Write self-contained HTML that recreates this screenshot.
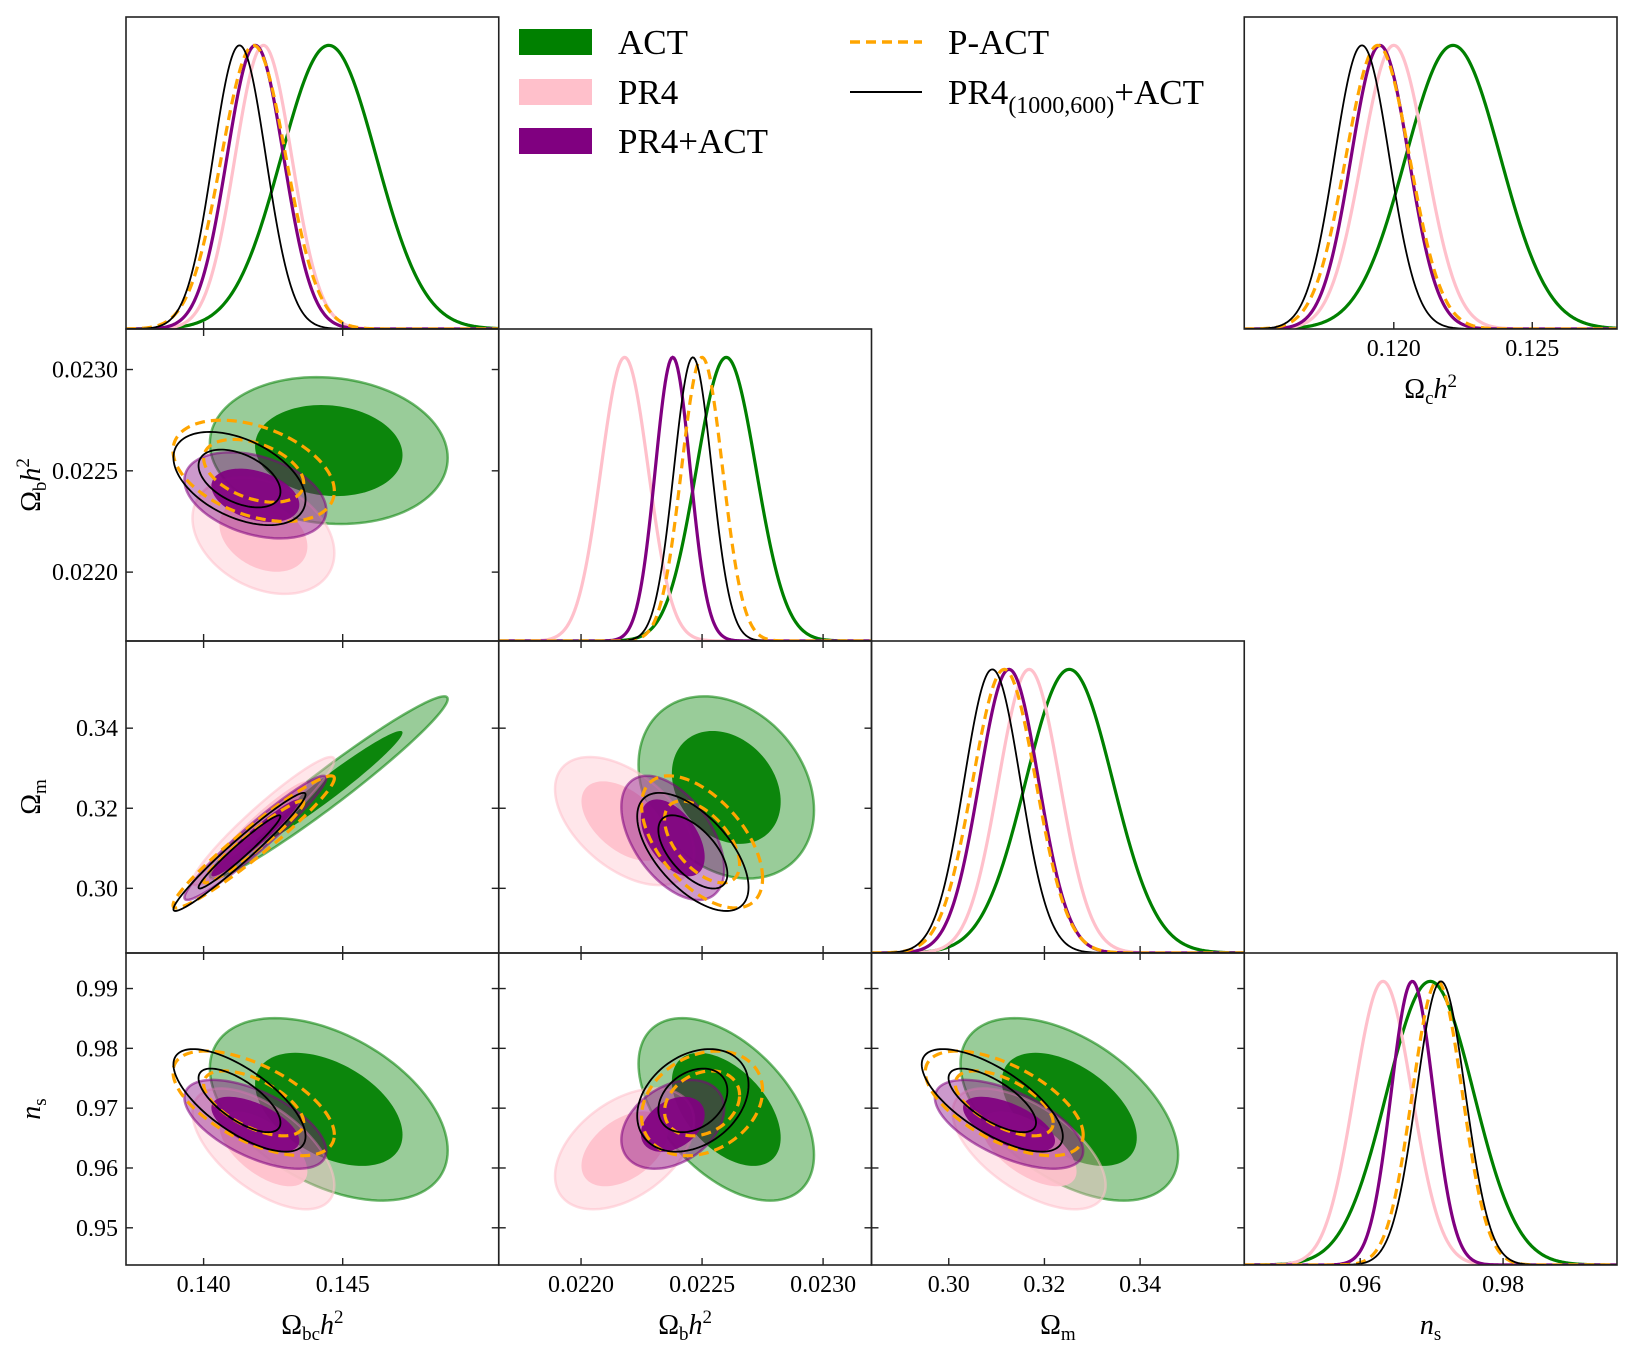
<!DOCTYPE html>
<html><head><meta charset="utf-8"><style>
html,body{margin:0;padding:0;background:#fff}
svg{display:block;font-family:"Liberation Serif","DejaVu Serif",serif}
</style></head><body>
<svg id="fig" width="1630" height="1350" viewBox="0 0 1630 1350" xmlns="http://www.w3.org/2000/svg">
<rect width="1630" height="1350" fill="#fff"/>
<g id="legend">
  <g><rect x="519" y="29" width="73" height="26" fill="#008000"/><text x="618" y="54" font-size="35">ACT</text></g>
  <g><rect x="519" y="79" width="73" height="26" fill="#ffc0cb"/><text x="618" y="104" font-size="35">PR4</text></g>
  <g><rect x="519" y="128" width="73" height="26" fill="#800080"/><text x="618" y="153" font-size="35">PR4+ACT</text></g>
  <g><line x1="850" y1="42" x2="922" y2="42" stroke="#ffa500" stroke-width="3.5" stroke-dasharray="10 6"/><text x="948" y="54" font-size="35">P-ACT</text></g>
  <g><line x1="850" y1="92" x2="922" y2="92" stroke="#000" stroke-width="2"/><text x="948" y="104" font-size="35">PR4<tspan font-size="24" dy="9">(1000,600)</tspan><tspan dy="-9">+ACT</tspan></text></g>
</g>
</svg>
<script>
// dataset order: ACT, PR4, PR4+ACT, P-ACT, PR4(1000,600)+ACT
const datasets = ['ACT','PR4','PR4+ACT','P-ACT','PR4_1000_600+ACT'];
const meanOmbch2 = [0.1445, 0.14215, 0.14186, 0.1418, 0.14129];
const sigOmbch2  = [0.00171, 0.00102, 0.00102, 0.00116, 0.00095];
const meanOmbh2  = [0.0226, 0.02218, 0.022379, 0.0225, 0.022462];
const sigOmbh2   = [0.000145, 0.000115, 0.000085, 0.0001, 0.000092];
const meanOmm    = [0.3252, 0.3168, 0.3126, 0.3116, 0.3091];
const sigOmm     = [0.0091, 0.0064, 0.0062, 0.0066, 0.0059];
const meanNs     = [0.9698, 0.9632, 0.9673, 0.9708, 0.9713];
const sigNs      = [0.0061, 0.00404, 0.00297, 0.0035, 0.00343];
const meanOmch2  = [0.12214, 0.1200, 0.1195, 0.11942, 0.11885];
const sigOmch2   = [0.00171, 0.00115, 0.00104, 0.00115, 0.00099];
const corrBcB  = [-0.1, -0.3, -0.35, -0.4, -0.45];
const corrBcM  = [0.97, 0.95, 0.96, 0.96, 0.97];
const corrBM   = [-0.25, -0.5, -0.5, -0.55, -0.6];
const corrBcNs = [-0.45, -0.6, -0.6, -0.6, -0.7];
const corrBNs  = [-0.5, 0.45, 0.35, 0.25, 0.3];
const corrMNs  = [-0.5, -0.6, -0.6, -0.6, -0.7];
const ticksBc = [0.140, 0.145];
const ticksB  = [0.0220, 0.0225, 0.0230];
const ticksM  = [0.30, 0.32, 0.34];
const ticksNsX = [0.96, 0.98];
const ticksNsY = [0.95, 0.96, 0.97, 0.98, 0.99];
const ticksC  = [0.120, 0.125];

const NS='http://www.w3.org/2000/svg';
const svg=document.getElementById('fig');
const legend=document.getElementById('legend');
function mk(tag,attrs,parent){const e=document.createElementNS(NS,tag);for(const k in attrs)e.setAttribute(k,attrs[k]);(parent||svg).insertBefore(e,parent?null:legend);return e;}

const L0=126, PW=372.75, T0=17, PH=312;
const means=[meanOmbch2,meanOmbh2,meanOmm,meanNs];
const sigs=[sigOmbch2,sigOmbh2,sigOmm,sigNs];
const lo=[0.13721,0.02166,0.28385,0.94378], hi=[0.15061,0.02320,0.36177,0.99594];
const xt=[ticksBc,ticksB,ticksM,ticksNsX], yt=[null,ticksB,ticksM,ticksNsY];
const xfmt=[3,4,2,2], yfmt=[0,4,2,2];
const corr={'0-1':corrBcB,'0-2':corrBcM,'1-2':corrBM,'0-3':corrBcNs,'1-3':corrBNs,'2-3':corrMNs};
const lineCol=['#008000','#ffc0cb','#800080','#ffa500','#000000'];
const names=['act','pr4','pr4-act','p-act','pr4-1000-600-act'];
const margScale=[1,0.85,1,1];

function xs(p,v,x0){return x0+(v-lo[p])/(hi[p]-lo[p])*PW;}
function ys(p,v,y0){return y0+PH-(v-lo[p])/(hi[p]-lo[p])*PH;}
function gaussPath(m,s,a,b,X,Y){let d='';for(let k=0;k<=300;k++){const v=a+(b-a)*k/300;const g=Math.exp(-0.5*((v-m)/s)**2)/1.1;d+=(k?'L':'M')+X(v).toFixed(2)+' '+Y(g).toFixed(2);}return d;}
function ellPath(mx,my,sx,sy,rho,r,X,Y){let d='';const q=Math.sqrt(1-rho*rho);for(let k=0;k<=120;k++){const t=2*Math.PI*k/120;const u=r*Math.cos(t),w=r*Math.sin(t);const vx=mx+sx*u,vy=my+sy*(rho*u+q*w);d+=(k?'L':'M')+X(vx).toFixed(2)+' '+Y(vy).toFixed(2);}return d+'Z';}

let clipId=0;
function panel(x0,y0,name){
  const g=mk('g',{});
  
  
  const cp=mk('clipPath',{id:'c'+clipId},g);mk('rect',{x:x0,y:y0,width:PW,height:PH},cp);
  const inner=mk('g',{'clip-path':'url(#c'+clipId+')'},g);clipId++;
  return {g,inner};
}
function frame(g,x0,y0){const r=mk('rect',{x:x0,y:y0,width:PW,height:PH,fill:'none',stroke:'#222','stroke-width':1.6},g);}
function xticks(g,p,x0,y0,both,labels,fmt){for(const t of xt[p]){const x=xs(p,t,x0);mk('line',{x1:x,y1:y0+PH,x2:x,y2:y0+PH-7,stroke:'#222','stroke-width':1.4},g);if(both)mk('line',{x1:x,y1:y0,x2:x,y2:y0+7,stroke:'#222','stroke-width':1.4},g);
  if(labels){const tx=mk('text',{x:x,y:y0+PH+27,'font-size':24,'text-anchor':'middle'},g);tx.textContent=t.toFixed(fmt);}}}

const r68=1.55, r95=2.5;
for(let i=0;i<4;i++){for(let j=0;j<=i;j++){
  const x0=L0+PW*j, y0=T0+PH*i;
  if(i===j){
    const P=panel(x0,y0,'marginal-'+['ombch2','ombh2','omm','ns'][i]);
    const X=v=>xs(i,v,x0), Y=g=>y0+PH-g*PH;
    for(let d=0;d<5;d++){const e=mk('path',{d:gaussPath(means[i][d],sigs[i][d]*margScale[i],lo[i],hi[i],X,Y),fill:'none',stroke:lineCol[d],'stroke-width':d===4?1.8:3.2,'stroke-dasharray':d===3?'10 6':'none'},P.inner);
      
      }
    frame(P.g,x0,y0);xticks(P.g,i,x0,y0,false,i===3,xfmt[i]);
  } else {
    const P=panel(x0,y0,'contour-panel-'+j+'-'+i);
    const X=v=>xs(j,v,x0), Y=v=>ys(i,v,y0);
    const rho=corr[j+'-'+i];
    for(let d=0;d<3;d++){
      const args=[means[j][d],means[i][d],sigs[j][d],sigs[i][d],rho[d]];
      const o=mk('path',{d:ellPath(...args,r95,X,Y),fill:lineCol[d],'fill-opacity':0.4,stroke:lineCol[d],'stroke-opacity':0.55,'stroke-width':2.5},P.inner);
      
      
      const n=mk('path',{d:ellPath(...args,r68,X,Y),fill:lineCol[d],'fill-opacity':0.92},P.inner);
      
      
    }
    for(let d=3;d<5;d++){for(const r of [r68,r95]){
      const e=mk('path',{d:ellPath(means[j][d],means[i][d],sigs[j][d],sigs[i][d],rho[d],r,X,Y),fill:'none',stroke:lineCol[d],'stroke-width':d===4?1.8:3.2,'stroke-dasharray':d===3?'10 6':'none'},P.inner);
      
      }}
    frame(P.g,x0,y0);xticks(P.g,j,x0,y0,true,i===3,xfmt[j]);
    for(const t of yt[i]){const y=ys(i,t,y0);mk('line',{x1:x0,y1:y,x2:x0+7,y2:y,stroke:'#222','stroke-width':1.4},P.g);mk('line',{x1:x0+PW,y1:y,x2:x0+PW-7,y2:y,stroke:'#222','stroke-width':1.4},P.g);
      if(j===0){const tx=mk('text',{x:x0-8,y:y+8,'font-size':24,'text-anchor':'end'},P.g);tx.textContent=t.toFixed(yfmt[i]);}}
  }
}}
// Omega_c h^2 marginal (top right)
{
  const x0=L0+PW*3,y0=T0,clo=0.1146,chi=0.12806;
  const P=panel(x0,y0,'marginal-omch2');
  const X=v=>x0+(v-clo)/(chi-clo)*PW, Y=g=>y0+PH-g*PH;
  for(let d=0;d<5;d++){const e=mk('path',{d:gaussPath(meanOmch2[d],sigOmch2[d],clo,chi,X,Y),fill:'none',stroke:lineCol[d],'stroke-width':d===4?1.8:3.2,'stroke-dasharray':d===3?'10 6':'none'},P.inner);
    
    }
  frame(P.g,x0,y0);
  for(const t of ticksC){const x=X(t);mk('line',{x1:x,y1:y0+PH,x2:x,y2:y0+PH-7,stroke:'#222','stroke-width':1.4},P.g);const tx=mk('text',{x:x,y:y0+PH+27,'font-size':24,'text-anchor':'middle'},P.g);tx.textContent=t.toFixed(3);}
}
// axis titles
function title(x,y,base,sub,hasH,rot,name){
  const t=mk('text',{x:x,y:y,'font-size':28,'text-anchor':'middle',transform:rot?('rotate(-90 '+x+' '+y+')'):''});
  t.innerHTML=base==='n'?'<tspan font-style="italic">n</tspan><tspan font-size="19" dy="6">'+sub+'</tspan>':'Ω<tspan font-size="19" dy="6">'+sub+'</tspan>'+(hasH?'<tspan dy="-6" font-style="italic">h</tspan><tspan font-size="19" dy="-11">2</tspan>':'');
  
  
}
title(L0+PW*0.5,1334,'O','bc',true,false,'x-axis-title-ombch2');
title(L0+PW*1.5,1334,'O','b',true,false,'x-axis-title-ombh2');
title(L0+PW*2.5,1334,'O','m',false,false,'x-axis-title-omm');
title(L0+PW*3.5,1334,'n','s',false,false,'x-axis-title-ns');
title(L0+PW*3.5,398,'O','c',true,false,'x-axis-title-omch2');
title(40,T0+PH*1.5,'O','b',true,true,'y-axis-title-ombh2');
title(40,T0+PH*2.5,'O','m',false,true,'y-axis-title-omm');
title(40,T0+PH*3.5,'n','s',false,true,'y-axis-title-ns');
</script>
</body></html>
